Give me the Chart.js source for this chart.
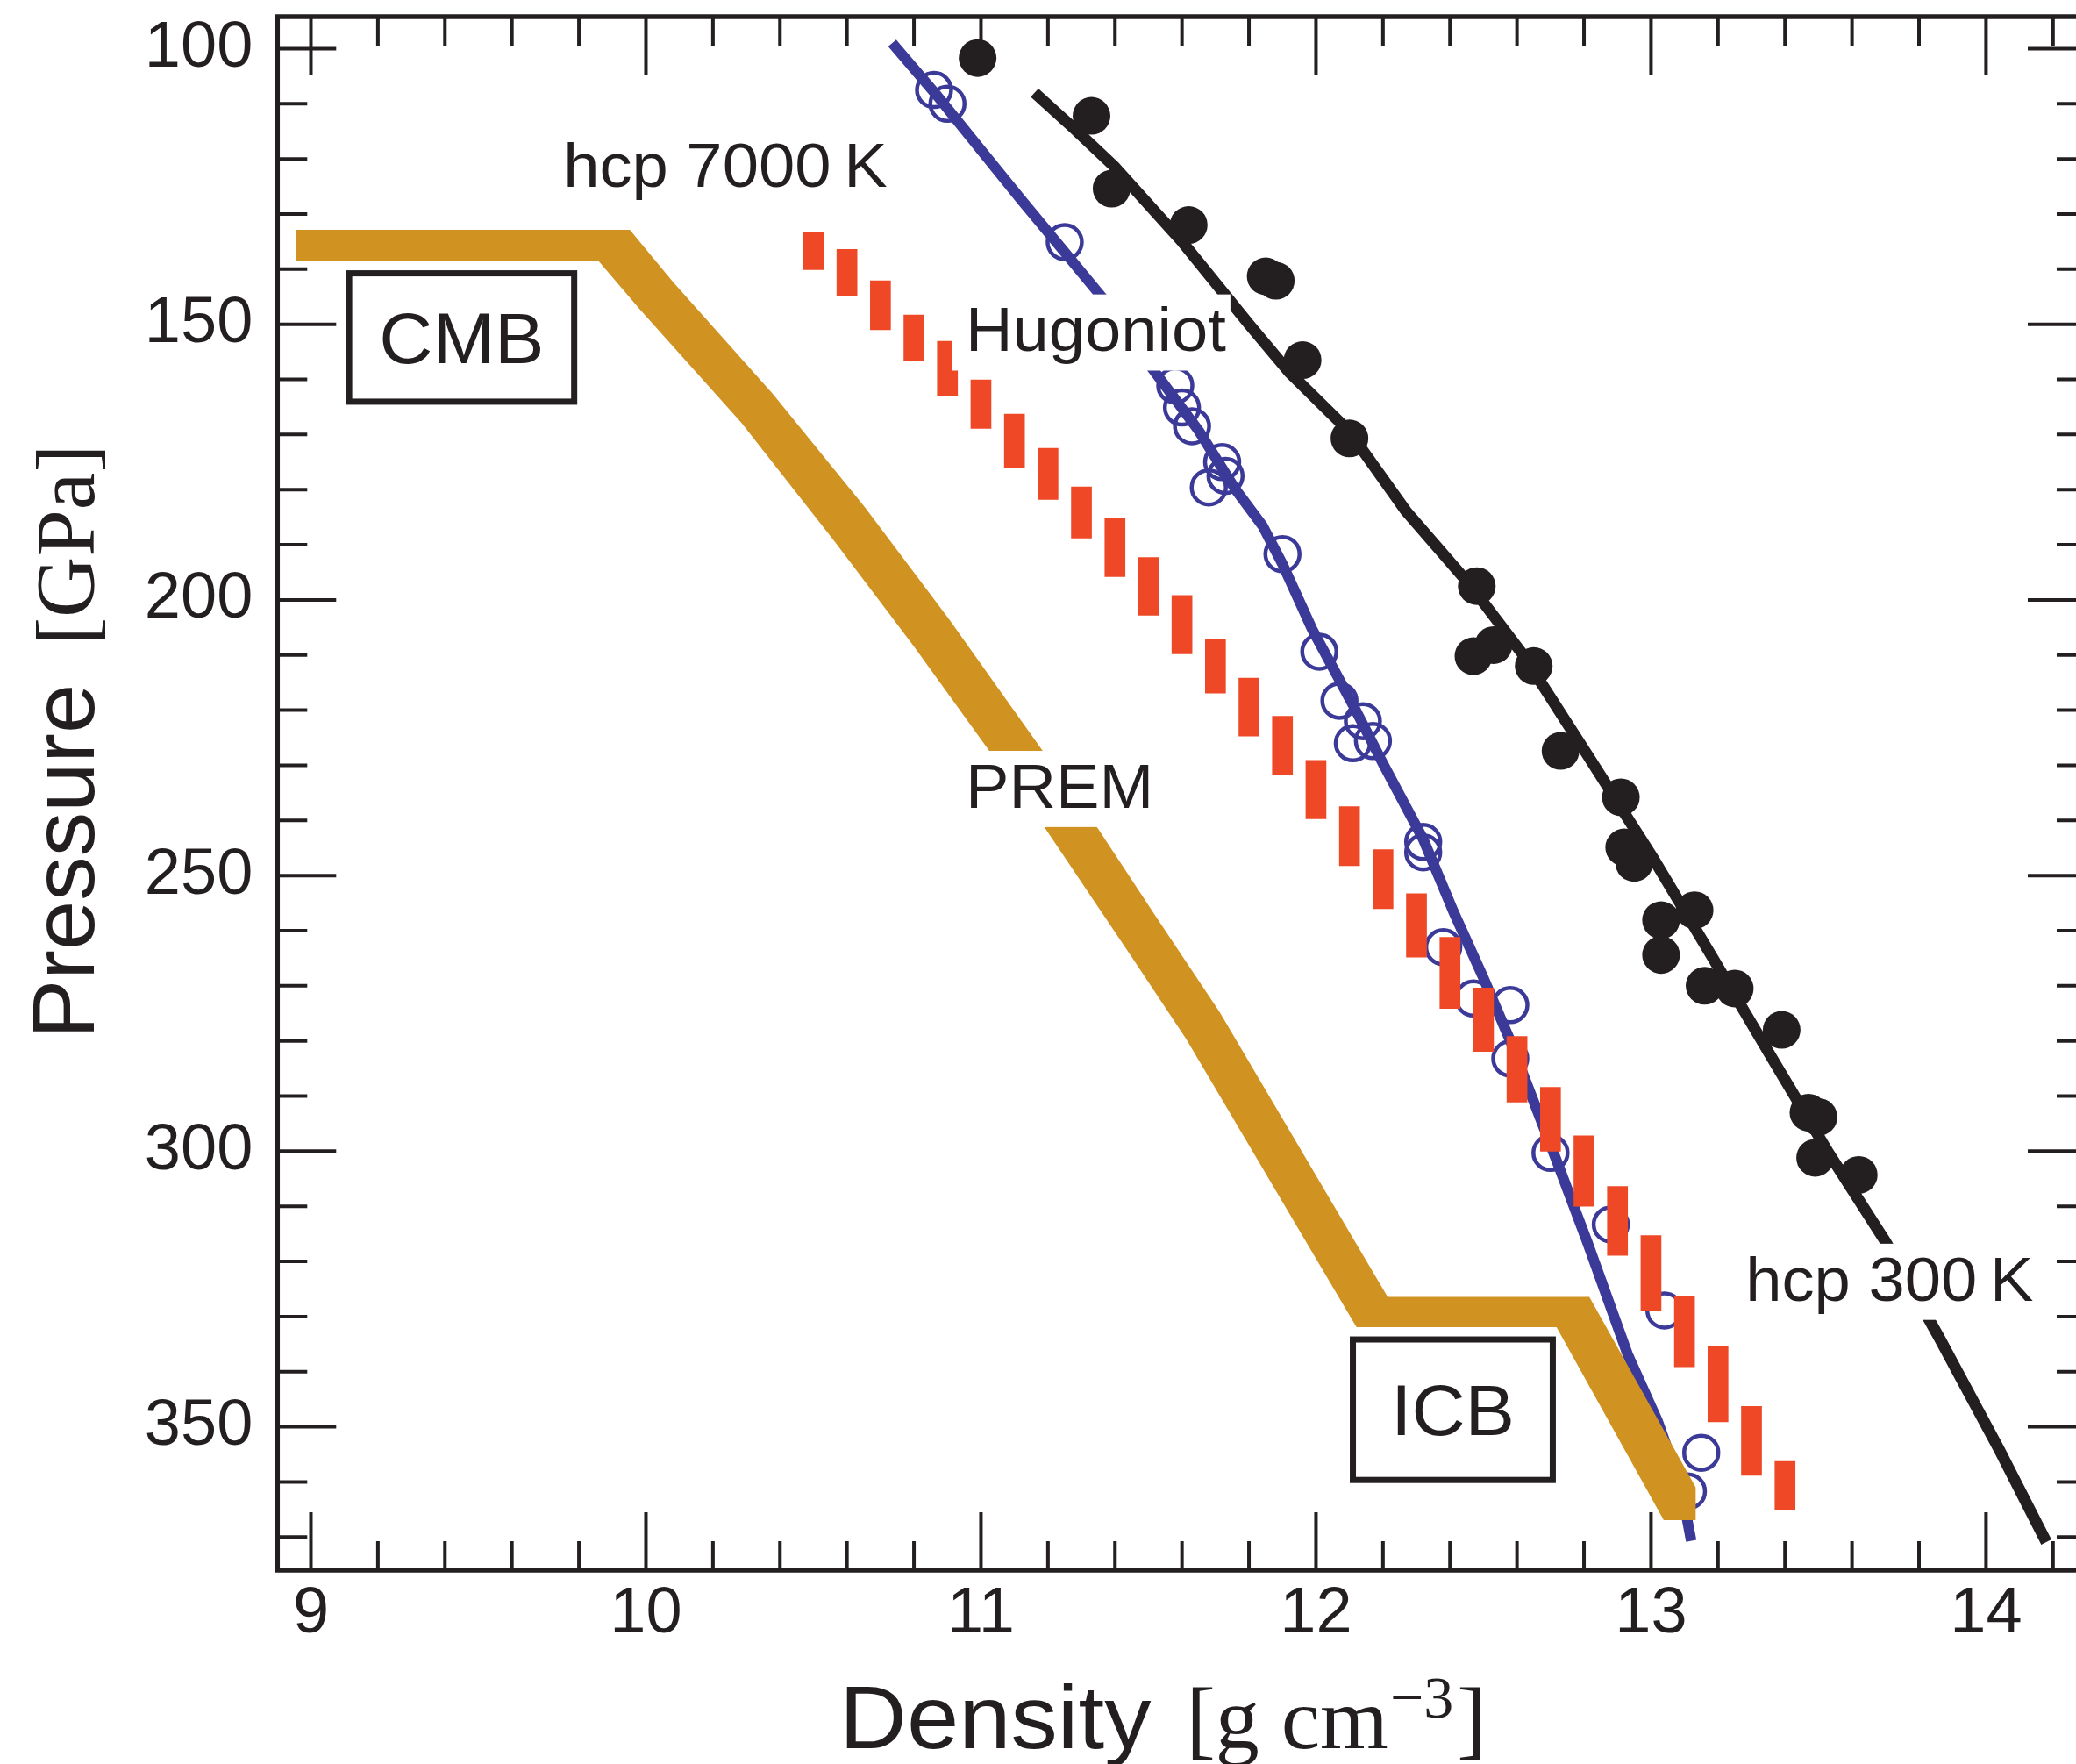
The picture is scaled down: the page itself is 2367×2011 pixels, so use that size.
<!DOCTYPE html>
<html>
<head>
<meta charset="utf-8">
<script src="https://cdn.jsdelivr.net/npm/chart.js@4.4.1/dist/chart.umd.min.js"></script>
<style>
html,body{margin:0;padding:0;background:#fff;overflow:hidden;}
#wrap{width:2367px;height:2011px;overflow:hidden;position:relative;background:#fff;}
canvas{display:block;}
</style>
</head>
<body>
<div id="wrap"><canvas id="c" width="2400" height="2011"></canvas></div>
<script>
// ---------------- data ----------------
const xTickLabels = [9, 10, 11, 12, 13, 14];
const yTickLabels = [100, 150, 200, 250, 300, 350];

// hcp 300 K measurements (filled black circles)
const hcp300Density  = [10.99, 11.33, 11.39, 11.62, 11.85, 11.88, 11.96, 12.10, 12.48, 12.47, 12.53, 12.65, 12.73,
                        12.91, 12.92, 12.95, 13.03, 13.13, 13.03, 13.16, 13.25, 13.39, 13.47, 13.50, 13.49, 13.62];
const hcp300Pressure = [101.7, 112.2, 125.4, 132.0, 141.3, 142.1, 156.5, 170.7, 197.5, 210.2, 208.2, 212.0, 227.4,
                        235.8, 244.9, 247.7, 258.1, 256.3, 264.4, 270.0, 270.5, 278.0, 293.0, 293.8, 301.2, 304.3];

// hcp 300 K fit (black curve)
const hcp300FitDensity  = [11.16, 11.28, 11.40, 11.60, 11.80, 11.92, 12.10, 12.27, 12.46, 12.62, 12.81, 13.01, 13.18,
                           13.36, 13.53, 13.70, 13.86, 14.04, 14.18];
const hcp300FitPressure = [108.0, 114.6, 121.5, 135.0, 150.0, 158.7, 169.5, 184.0, 197.3, 210.1, 228.1, 247.2, 264.5,
                           283.0, 300.3, 316.4, 333.8, 354.2, 370.9];

// Hugoniot measurements (open blue circles)
const hugDensity  = [10.86, 10.90, 11.25, 11.58, 11.60, 11.63, 11.72, 11.73, 11.68, 11.90, 12.01, 12.07, 12.14,
                     12.11, 12.17, 12.32, 12.32, 12.38, 12.47, 12.58, 12.58, 12.70, 12.88, 13.04, 13.15, 13.11];
const hugPressure = [107.5, 110.0, 135.1, 161.1, 165.1, 168.5, 175.0, 177.5, 179.6, 191.7, 209.4, 218.3, 222.0,
                     226.0, 225.6, 243.9, 245.8, 263.0, 272.3, 273.5, 283.2, 300.3, 313.3, 328.9, 354.7, 361.7];

// Hugoniot fit (blue curve)
const hugFitDensity  = [10.735, 10.87, 11.00, 11.12, 11.24, 11.36, 11.51, 11.65, 11.76, 11.84, 11.90, 11.99, 12.11,
                        12.20, 12.32, 12.41, 12.50, 12.58, 12.65, 12.72, 12.81, 12.93, 13.02, 13.09, 13.12];
const hugFitPressure = [99.0, 108.6, 118.4, 127.4, 136.2, 145.0, 157.9, 169.3, 180.0, 186.5, 193.5, 205.5, 219.0,
                        229.7, 243.4, 256.5, 268.6, 280.0, 291.0, 302.0, 316.5, 336.8, 349.0, 361.0, 370.7];

// hcp 7000 K (red bars: density, pressure range)
const hcp7000Density = [10.5, 10.6, 10.7, 10.8, 10.9, 11.0, 11.1, 11.2, 11.3, 11.4, 11.5, 11.6, 11.7, 11.8, 11.9,
                        12.0, 12.1, 12.2, 12.3, 12.4, 12.5, 12.6, 12.7, 12.8, 12.9, 13.0, 13.1, 13.2, 13.3, 13.4];
const hcp7000PLow  = [133.4, 136.4, 142.1, 148.3, 153.1, 160.1, 166.3, 172.5, 179.5, 185.2, 192.3, 199.2, 207.2, 214.2, 221.1,
                      229.1, 237.5, 245.3, 253.3, 261.2, 270.4, 279.2, 288.4, 297.2, 306.4, 315.3, 326.3, 335.4, 346.3, 356.3];
const hcp7000PHigh = [140.1, 144.8, 151.0, 156.7, 162.9, 168.9, 176.1, 181.8, 188.8, 195.8, 202.8, 209.8, 216.9, 224.7, 231.8,
                      239.7, 248.2, 256.0, 264.8, 274.1, 281.9, 291.1, 300.0, 310.0, 318.9, 328.9, 339.1, 349.1, 358.8, 365.0];

// PREM band (upper/right edge and lower/left edge)
const premUpperDensity  = [8.956, 9.952, 10.081, 10.378, 10.653, 10.904, 11.350, 11.525, 11.712, 12.115, 12.214, 12.816, 13.134, 13.134];
const premUpperPressure = [132.87, 132.87, 142.32, 162.58, 183.15, 203.42, 241.56, 257.68, 274.73, 316.27, 326.44, 326.44, 361.03, 366.92];
const premLowerDensity  = [8.956, 9.859, 9.982, 10.285, 10.565, 10.799, 11.193, 11.450, 11.613, 12.121, 12.718, 13.038, 13.134];
const premLowerPressure = [138.60, 138.57, 147.30, 167.89, 189.56, 208.38, 241.56, 264.77, 279.70, 331.92, 331.92, 366.92, 366.92];

// text annotations (anchor = left end of baseline, in data units)
const labelTexts    = ['hcp 7000\u2009K', 'Hugoniot', 'PREM', 'hcp 300\u2009K'];
const labelDensity  = [9.753, 10.954, 10.954, 13.282];
const labelPressure = [125.1, 154.9, 237.7, 327.1];

// boxed annotations
const boxTexts      = ['CMB', 'ICB'];
const boxDensity0   = [9.105, 12.101];
const boxDensity1   = [9.795, 12.716];
const boxPressure0  = [140.2, 333.6];
const boxPressure1  = [164.6, 360.2];

// ---------------- style ----------------
const INK = '#231f20', BLUE = '#3c3a98', RED = '#ee4826', GOLD = '#d09321';
const SANS = '"Liberation Sans", Arial, Helvetica, sans-serif';
const SERIF = '"Liberation Serif", "Times New Roman", serif';
const SX = 1.045; // slight horizontal stretch of the original lettering

const pts = (xs, ys) => xs.map((x, i) => ({x: x, y: ys[i]}));

function stretchedText(ctx, text, x, y, font, sx) {
  ctx.save();
  ctx.font = font;
  ctx.translate(x, y);
  ctx.scale(sx, 1);
  ctx.fillText(text, 0, 0);
  const w = ctx.measureText(text).width * sx;
  ctx.restore();
  return w;
}

const decor = {
  id: 'decor',
  afterDatasetsDraw(chart) {
    const ctx = chart.ctx, xs = chart.scales.x, ys = chart.scales.y, a = chart.chartArea;
    ctx.save();
    ctx.textAlign = 'left';
    ctx.textBaseline = 'alphabetic';

    // labels with white backing
    const LSIZE = 71;
    labelTexts.forEach((t, i) => {
      const px = xs.getPixelForValue(labelDensity[i]);
      const py = ys.getPixelForValue(labelPressure[i]);
      ctx.font = LSIZE + 'px ' + SANS;
      const w = ctx.measureText(t).width * SX;
      const cap = LSIZE * 0.716;
      ctx.fillStyle = '#fff';
      ctx.fillRect(px - 15, py - cap - 14, w + 20, cap + 14 + 22);
      ctx.fillStyle = INK;
      stretchedText(ctx, t, px, py, LSIZE + 'px ' + SANS, SX);
    });

    // CMB / ICB boxes
    const BSIZE = 81, BW = 7;
    boxTexts.forEach((t, i) => {
      const x0 = xs.getPixelForValue(boxDensity0[i]), x1 = xs.getPixelForValue(boxDensity1[i]);
      const y0 = ys.getPixelForValue(boxPressure0[i]), y1 = ys.getPixelForValue(boxPressure1[i]);
      ctx.fillStyle = '#fff';
      ctx.fillRect(x0, y0, x1 - x0, y1 - y0);
      ctx.strokeStyle = INK; ctx.lineWidth = BW;
      ctx.strokeRect(x0 + BW / 2, y0 + BW / 2, x1 - x0 - BW, y1 - y0 - BW);
      ctx.font = BSIZE + 'px ' + SANS;
      const w = ctx.measureText(t).width * SX;
      ctx.fillStyle = INK;
      stretchedText(ctx, t, (x0 + x1) / 2 - w / 2, (y0 + y1) / 2 + BSIZE * 0.716 / 2, BSIZE + 'px ' + SANS, SX);
    });

    // frame
    ctx.strokeStyle = INK;
    ctx.lineWidth = 5.5;
    ctx.strokeRect(a.left, a.top, a.right - a.left, a.bottom - a.top);

    // inward ticks on all four sides
    ctx.lineWidth = 4;
    ctx.lineCap = 'butt';
    ctx.beginPath();
    for (let k = 0; k <= 26; k++) {
      const v = xTickLabels[0] + k * 0.2;
      const px = xs.getPixelForValue(v);
      const len = (k % 5 === 0) ? 66 : 33;
      ctx.moveTo(px, a.top); ctx.lineTo(px, a.top + len);
      ctx.moveTo(px, a.bottom); ctx.lineTo(px, a.bottom - len);
    }
    for (let k = 0; k <= 27; k++) {
      const v = yTickLabels[0] + k * 10;
      const py = ys.getPixelForValue(v);
      const len = (k % 5 === 0) ? 67 : 34;
      ctx.moveTo(a.left, py); ctx.lineTo(a.left + len, py);
      ctx.moveTo(a.right, py); ctx.lineTo(a.right - len, py);
    }
    ctx.stroke();

    // x-axis title: Density [g cm^-3]
    ctx.fillStyle = INK;
    let x = 957;
    const yb = 1993;
    x += stretchedText(ctx, 'Density', x, yb, '102px ' + SANS, SX);
    x += 40;
    x += stretchedText(ctx, '[g cm', x, yb, '100px ' + SERIF, 1.0);
    x += 2;
    x += stretchedText(ctx, '\u22123', x, yb - 35, '68px ' + SERIF, 1.0);
    x += 4;
    stretchedText(ctx, ']', x, yb, '100px ' + SERIF, 1.0);

    // y-axis title: Pressure [GPa]
    ctx.save();
    ctx.translate(106.7, 1184);
    ctx.rotate(-Math.PI / 2);
    let yx = 0;
    yx += stretchedText(ctx, 'Pressure', yx, 0, '101px ' + SANS, 1.0);
    yx += 44;
    stretchedText(ctx, '[GPa]', yx, 0, '96px ' + SERIF, 1.0);
    ctx.restore();

    ctx.restore();
  }
};

const ctx = document.getElementById('c').getContext('2d');
new Chart(ctx, {
  type: 'scatter',
  data: {
    datasets: [
      { type: 'line', label: 'Hugoniot data', data: pts(hugDensity, hugPressure), showLine: false,
        pointRadius: 19.5, pointBorderWidth: 4.5, pointBorderColor: BLUE, pointBackgroundColor: 'rgba(0,0,0,0)',
        pointHoverRadius: 19.5, order: 6 },
      { type: 'line', label: 'Hugoniot', data: pts(hugFitDensity, hugFitPressure), borderColor: BLUE,
        borderWidth: 12, pointRadius: 0, tension: 0, fill: false, borderJoinStyle: 'round', order: 5 },
      { type: 'line', label: 'PREM', data: pts(premUpperDensity, premUpperPressure), borderColor: 'rgba(0,0,0,0)',
        borderWidth: 0, pointRadius: 0, tension: 0, backgroundColor: GOLD, fill: '+1', order: 4 },
      { type: 'line', label: 'PREM lower', data: pts(premLowerDensity, premLowerPressure), borderColor: 'rgba(0,0,0,0)',
        borderWidth: 0, pointRadius: 0, tension: 0, fill: false, order: 4 },
      { type: 'bar', label: 'hcp 7000 K', data: hcp7000Density.map((d, i) => ({x: d, y: [hcp7000PLow[i], hcp7000PHigh[i]]})),
        backgroundColor: RED, borderWidth: 0, barThickness: 23, order: 3 },
      { type: 'line', label: 'hcp 300 K fit', data: pts(hcp300FitDensity, hcp300FitPressure), borderColor: INK,
        borderWidth: 13, pointRadius: 0, tension: 0, fill: false, borderJoinStyle: 'round', order: 2 },
      { type: 'line', label: 'hcp 300 K', data: pts(hcp300Density, hcp300Pressure), showLine: false,
        pointRadius: 21.5, pointBorderWidth: 0, pointBackgroundColor: INK, pointBorderColor: INK,
        pointHoverRadius: 21.5, order: 1 }
    ]
  },
  options: {
    responsive: false,
    devicePixelRatio: 1,
    animation: false,
    events: [],
    layout: { padding: { top: 19, right: 21, left: 0, bottom: 0 }, autoPadding: false },
    plugins: { legend: { display: false }, tooltip: { enabled: false }, title: { display: false } },
    scales: {
      x: {
        type: 'linear', min: 8.9, max: 14.3, position: 'bottom', offset: false,
        grid: { display: false, drawTicks: false }, border: { display: false },
        ticks: { color: INK, padding: 6, font: { family: SANS, size: 74 }, maxRotation: 0, autoSkip: false },
        afterBuildTicks: s => { s.ticks = xTickLabels.map(v => ({value: v})); },
        afterFit: s => { s.height = 221; s.paddingLeft = 0; s.paddingRight = 0; }
      },
      y: {
        type: 'linear', min: 94.2, max: 376, reverse: true, position: 'left',
        grid: { display: false, drawTicks: false }, border: { display: false },
        ticks: { color: INK, padding: 28, font: { family: SANS, size: 74 }, autoSkip: false },
        afterBuildTicks: s => { s.ticks = yTickLabels.map(v => ({value: v})); },
        afterFit: s => { s.width = 316.3; s.paddingTop = 0; s.paddingBottom = 0; }
      }
    }
  },
  plugins: [decor]
});
</script>
</body>
</html>
